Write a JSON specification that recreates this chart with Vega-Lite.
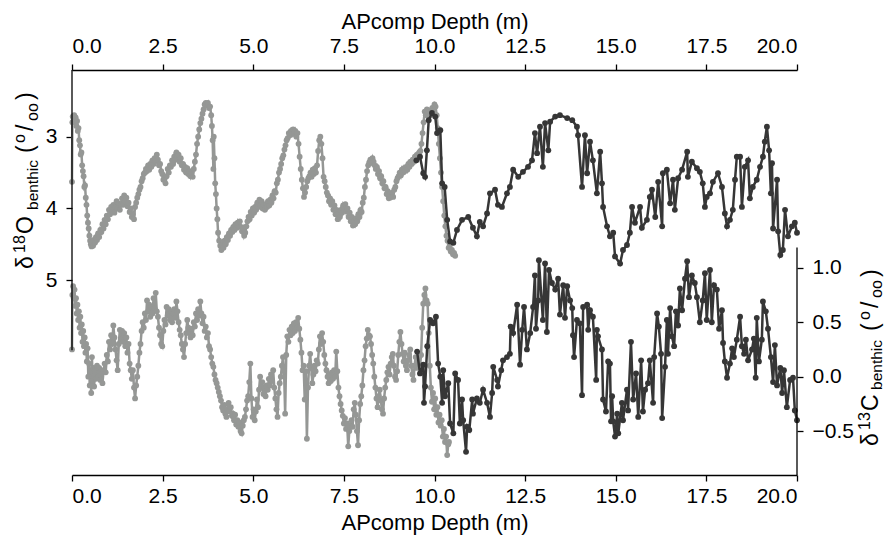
{
  "$schema": "https://vega.github.io/schema/vega-lite/v6.json",
  "width": 725,
  "height": 405,
  "autosize": {"type": "none"},
  "padding": {"left": 72, "top": 70, "right": 90, "bottom": 64},
  "background": "white",
  "config": {
    "view": {"stroke": null},
    "font": "Liberation Sans",
    "axis": {
      "grid": false,
      "domainColor": "#000000",
      "domainWidth": 1.3,
      "tickColor": "#000000",
      "tickWidth": 1.3,
      "tickSize": 6,
      "labelFont": "Liberation Sans",
      "labelFontSize": 21,
      "labelColor": "#000000",
      "titleFont": "Liberation Sans",
      "titleFontSize": 22,
      "titleFontWeight": "normal",
      "titleColor": "#000000"
    }
  },
  "datasets": {
    "o18a": [
      {"depth":0.00,"value":3.63},{"depth":0.01,"value":2.80},{"depth":0.02,"value":2.72},{"depth":0.04,"value":2.78},{"depth":0.06,"value":2.70},{"depth":0.08,"value":2.76},{"depth":0.10,"value":2.73},{"depth":0.12,"value":2.85},{"depth":0.14,"value":2.78},{"depth":0.16,"value":2.92},{"depth":0.18,"value":2.88},{"depth":0.20,"value":3.05},{"depth":0.22,"value":3.12},{"depth":0.24,"value":3.25},{"depth":0.26,"value":3.22},{"depth":0.28,"value":3.40},{"depth":0.30,"value":3.48},{"depth":0.32,"value":3.55},{"depth":0.34,"value":3.70},{"depth":0.36,"value":3.68},{"depth":0.38,"value":3.85},{"depth":0.40,"value":3.95},{"depth":0.42,"value":4.10},{"depth":0.44,"value":4.20},{"depth":0.46,"value":4.28},{"depth":0.48,"value":4.38},{"depth":0.50,"value":4.45},{"depth":0.52,"value":4.50},{"depth":0.54,"value":4.53},{"depth":0.56,"value":4.47},{"depth":0.58,"value":4.52},{"depth":0.60,"value":4.44},{"depth":0.63,"value":4.48},{"depth":0.66,"value":4.40},{"depth":0.69,"value":4.44},{"depth":0.72,"value":4.35},{"depth":0.75,"value":4.40},{"depth":0.78,"value":4.30},{"depth":0.81,"value":4.33},{"depth":0.84,"value":4.22},{"depth":0.87,"value":4.28},{"depth":0.90,"value":4.16},{"depth":0.93,"value":4.22},{"depth":0.96,"value":4.10},{"depth":0.99,"value":4.15},{"depth":1.02,"value":4.02},{"depth":1.05,"value":4.08},{"depth":1.08,"value":3.98},{"depth":1.11,"value":4.05},{"depth":1.14,"value":3.95},{"depth":1.17,"value":4.06},{"depth":1.20,"value":3.98},{"depth":1.23,"value":3.90},{"depth":1.26,"value":4.00},{"depth":1.29,"value":3.93},{"depth":1.32,"value":4.02},{"depth":1.35,"value":3.95},{"depth":1.38,"value":3.86},{"depth":1.41,"value":3.95},{"depth":1.44,"value":3.82},{"depth":1.47,"value":3.90},{"depth":1.50,"value":3.85},{"depth":1.53,"value":3.97},{"depth":1.56,"value":3.92},{"depth":1.59,"value":4.05},{"depth":1.62,"value":4.00},{"depth":1.65,"value":4.12},{"depth":1.68,"value":4.08},{"depth":1.71,"value":4.15},{"depth":1.74,"value":3.98},{"depth":1.77,"value":3.92},{"depth":1.80,"value":3.85},{"depth":1.83,"value":3.80},{"depth":1.86,"value":3.74},{"depth":1.89,"value":3.70},{"depth":1.92,"value":3.62},{"depth":1.95,"value":3.58},{"depth":1.98,"value":3.52},{"depth":2.01,"value":3.50},{"depth":2.04,"value":3.45},{"depth":2.07,"value":3.48},{"depth":2.10,"value":3.40},{"depth":2.13,"value":3.46},{"depth":2.16,"value":3.38},{"depth":2.19,"value":3.42},{"depth":2.22,"value":3.33},{"depth":2.25,"value":3.38},{"depth":2.28,"value":3.30},{"depth":2.31,"value":3.34},{"depth":2.34,"value":3.25},{"depth":2.37,"value":3.32},{"depth":2.40,"value":3.40},{"depth":2.43,"value":3.38},{"depth":2.46,"value":3.48},{"depth":2.49,"value":3.52},{"depth":2.52,"value":3.60},{"depth":2.55,"value":3.58},{"depth":2.58,"value":3.65},{"depth":2.61,"value":3.55},{"depth":2.64,"value":3.45},{"depth":2.67,"value":3.50},{"depth":2.70,"value":3.40},{"depth":2.73,"value":3.42},{"depth":2.76,"value":3.33},{"depth":2.79,"value":3.38},{"depth":2.82,"value":3.28},{"depth":2.85,"value":3.32},{"depth":2.88,"value":3.22},{"depth":2.91,"value":3.27},{"depth":2.94,"value":3.25},{"depth":2.97,"value":3.35},{"depth":3.00,"value":3.30},{"depth":3.03,"value":3.40},{"depth":3.06,"value":3.38},{"depth":3.09,"value":3.46},{"depth":3.12,"value":3.42},{"depth":3.15,"value":3.50},{"depth":3.18,"value":3.44},{"depth":3.21,"value":3.52},{"depth":3.24,"value":3.48},{"depth":3.27,"value":3.55},{"depth":3.30,"value":3.50},{"depth":3.33,"value":3.56},{"depth":3.36,"value":3.45},{"depth":3.39,"value":3.35},{"depth":3.42,"value":3.25},{"depth":3.45,"value":3.10},{"depth":3.48,"value":3.00},{"depth":3.51,"value":2.90},{"depth":3.54,"value":2.81},{"depth":3.57,"value":2.75},{"depth":3.60,"value":2.68},{"depth":3.63,"value":2.62},{"depth":3.66,"value":2.55},{"depth":3.69,"value":2.53},{"depth":3.72,"value":2.56},{"depth":3.75,"value":2.53},{"depth":3.78,"value":2.60},{"depth":3.81,"value":2.58},{"depth":3.84,"value":2.70},{"depth":3.86,"value":2.85},{"depth":3.88,"value":3.05},{"depth":3.90,"value":3.45},{"depth":3.91,"value":3.00},{"depth":3.93,"value":3.30},{"depth":3.95,"value":3.65},{"depth":3.97,"value":3.80},{"depth":3.99,"value":4.00},{"depth":4.01,"value":4.15},{"depth":4.03,"value":4.34},{"depth":4.06,"value":4.45},{"depth":4.09,"value":4.52},{"depth":4.12,"value":4.58},{"depth":4.15,"value":4.50},{"depth":4.18,"value":4.55},{"depth":4.21,"value":4.45},{"depth":4.24,"value":4.50},{"depth":4.27,"value":4.40},{"depth":4.30,"value":4.44},{"depth":4.33,"value":4.35},{"depth":4.36,"value":4.38},{"depth":4.39,"value":4.30},{"depth":4.42,"value":4.33},{"depth":4.45,"value":4.26},{"depth":4.48,"value":4.30},{"depth":4.51,"value":4.22},{"depth":4.54,"value":4.27},{"depth":4.57,"value":4.20},{"depth":4.60,"value":4.25},{"depth":4.63,"value":4.18},{"depth":4.66,"value":4.26},{"depth":4.69,"value":4.32},{"depth":4.72,"value":4.28},{"depth":4.75,"value":4.38},{"depth":4.78,"value":4.34},{"depth":4.81,"value":4.25},{"depth":4.84,"value":4.18},{"depth":4.87,"value":4.12},{"depth":4.90,"value":4.15},{"depth":4.93,"value":4.05},{"depth":4.96,"value":4.10},{"depth":4.99,"value":4.00},{"depth":5.02,"value":4.06},{"depth":5.05,"value":3.98},{"depth":5.08,"value":4.02},{"depth":5.11,"value":3.92},{"depth":5.14,"value":3.98},{"depth":5.17,"value":3.88},{"depth":5.20,"value":3.95},{"depth":5.23,"value":3.90},{"depth":5.26,"value":4.00},{"depth":5.29,"value":3.95},{"depth":5.32,"value":4.02},{"depth":5.35,"value":3.94},{"depth":5.38,"value":3.98},{"depth":5.41,"value":3.90},{"depth":5.44,"value":3.96},{"depth":5.47,"value":3.88},{"depth":5.50,"value":3.92},{"depth":5.53,"value":3.82},{"depth":5.56,"value":3.86},{"depth":5.59,"value":3.76},{"depth":5.62,"value":3.78},{"depth":5.65,"value":3.65},{"depth":5.68,"value":3.60},{"depth":5.71,"value":3.50},{"depth":5.74,"value":3.45},{"depth":5.77,"value":3.38},{"depth":5.80,"value":3.30},{"depth":5.83,"value":3.26},{"depth":5.86,"value":3.18},{"depth":5.89,"value":3.12},{"depth":5.92,"value":3.05},{"depth":5.95,"value":3.02},{"depth":5.98,"value":2.95},{"depth":6.01,"value":2.98},{"depth":6.04,"value":2.92},{"depth":6.07,"value":2.96},{"depth":6.10,"value":2.90},{"depth":6.13,"value":2.96},{"depth":6.16,"value":2.92},{"depth":6.19,"value":3.00},{"depth":6.22,"value":2.95},{"depth":6.25,"value":3.10},{"depth":6.28,"value":3.28},{"depth":6.31,"value":3.45},{"depth":6.34,"value":3.60},{"depth":6.37,"value":3.72},{"depth":6.40,"value":3.84},{"depth":6.43,"value":3.78},{"depth":6.46,"value":3.70},{"depth":6.49,"value":3.62},{"depth":6.52,"value":3.58},{"depth":6.55,"value":3.55},{"depth":6.58,"value":3.50},{"depth":6.61,"value":3.56},{"depth":6.64,"value":3.46},{"depth":6.67,"value":3.52},{"depth":6.70,"value":3.44},{"depth":6.73,"value":3.50},{"depth":6.76,"value":3.40},{"depth":6.79,"value":3.20},{"depth":6.82,"value":3.05},{"depth":6.85,"value":3.00},{"depth":6.88,"value":3.10},{"depth":6.91,"value":3.30},{"depth":6.94,"value":3.56},{"depth":6.97,"value":3.62},{"depth":7.00,"value":3.70},{"depth":7.03,"value":3.78},{"depth":7.06,"value":3.82},{"depth":7.09,"value":3.90},{"depth":7.12,"value":3.86},{"depth":7.15,"value":3.95},{"depth":7.18,"value":3.90},{"depth":7.21,"value":4.02},{"depth":7.24,"value":3.96},{"depth":7.27,"value":4.08},{"depth":7.30,"value":4.02},{"depth":7.33,"value":4.15},{"depth":7.36,"value":4.08},{"depth":7.39,"value":4.12},{"depth":7.42,"value":4.02},{"depth":7.45,"value":4.06},{"depth":7.48,"value":3.96},{"depth":7.51,"value":4.00},{"depth":7.54,"value":3.94},{"depth":7.57,"value":4.04},{"depth":7.60,"value":4.00},{"depth":7.63,"value":4.12},{"depth":7.66,"value":4.06},{"depth":7.69,"value":4.18},{"depth":7.72,"value":4.12},{"depth":7.75,"value":4.24},{"depth":7.78,"value":4.18},{"depth":7.81,"value":4.22},{"depth":7.84,"value":4.14},{"depth":7.87,"value":4.18},{"depth":7.90,"value":4.08},{"depth":7.93,"value":4.12},{"depth":7.96,"value":4.02},{"depth":7.99,"value":4.05},{"depth":8.02,"value":3.92},{"depth":8.05,"value":3.85},{"depth":8.08,"value":3.70},{"depth":8.11,"value":3.60},{"depth":8.14,"value":3.48},{"depth":8.17,"value":3.40},{"depth":8.20,"value":3.36},{"depth":8.23,"value":3.32},{"depth":8.26,"value":3.36},{"depth":8.29,"value":3.30},{"depth":8.32,"value":3.35},{"depth":8.35,"value":3.40},{"depth":8.38,"value":3.45},{"depth":8.41,"value":3.42},{"depth":8.44,"value":3.52},{"depth":8.47,"value":3.48},{"depth":8.50,"value":3.58},{"depth":8.53,"value":3.55},{"depth":8.56,"value":3.65},{"depth":8.59,"value":3.62},{"depth":8.62,"value":3.72},{"depth":8.65,"value":3.70},{"depth":8.68,"value":3.80},{"depth":8.71,"value":3.76},{"depth":8.74,"value":3.86},{"depth":8.77,"value":3.80},{"depth":8.80,"value":3.84},{"depth":8.83,"value":3.78},{"depth":8.86,"value":3.84},{"depth":8.89,"value":3.74},{"depth":8.92,"value":3.70},{"depth":8.95,"value":3.62},{"depth":8.98,"value":3.58},{"depth":9.01,"value":3.55},{"depth":9.04,"value":3.50},{"depth":9.07,"value":3.54},{"depth":9.10,"value":3.46},{"depth":9.13,"value":3.50},{"depth":9.16,"value":3.44},{"depth":9.19,"value":3.48},{"depth":9.22,"value":3.42},{"depth":9.25,"value":3.46},{"depth":9.28,"value":3.38},{"depth":9.31,"value":3.42},{"depth":9.34,"value":3.35},{"depth":9.37,"value":3.38},{"depth":9.40,"value":3.32},{"depth":9.43,"value":3.35},{"depth":9.46,"value":3.28},{"depth":9.49,"value":3.32},{"depth":9.52,"value":3.25},{"depth":9.55,"value":3.28},{"depth":9.58,"value":3.22},{"depth":9.61,"value":3.20},{"depth":9.64,"value":3.10},{"depth":9.67,"value":2.95},{"depth":9.70,"value":2.80},{"depth":9.73,"value":2.65},{"depth":9.76,"value":2.70},{"depth":9.79,"value":2.62},{"depth":9.82,"value":2.68},{"depth":9.85,"value":2.64},{"depth":9.88,"value":2.70},{"depth":9.91,"value":2.66},{"depth":9.94,"value":2.60},{"depth":9.97,"value":2.62},{"depth":10.00,"value":2.55},{"depth":10.03,"value":2.58},{"depth":10.06,"value":2.70},{"depth":10.09,"value":2.88},{"depth":10.12,"value":3.10},{"depth":10.15,"value":3.30},{"depth":10.18,"value":3.50},{"depth":10.21,"value":3.70},{"depth":10.24,"value":3.90},{"depth":10.27,"value":4.10},{"depth":10.30,"value":4.25},{"depth":10.33,"value":4.38},{"depth":10.36,"value":4.45},{"depth":10.39,"value":4.55},{"depth":10.42,"value":4.52},{"depth":10.45,"value":4.60},{"depth":10.48,"value":4.58},{"depth":10.51,"value":4.64},{"depth":10.54,"value":4.62},{"depth":10.57,"value":4.66}
    ],
    "o18b": [
      {"depth":9.50,"value":3.33},{"depth":9.60,"value":3.28},{"depth":9.69,"value":3.51},{"depth":9.74,"value":3.56},{"depth":9.79,"value":3.19},{"depth":9.84,"value":2.77},{"depth":9.93,"value":2.67},{"depth":10.02,"value":2.72},{"depth":10.07,"value":2.95},{"depth":10.16,"value":2.91},{"depth":10.21,"value":3.65},{"depth":10.28,"value":3.70},{"depth":10.35,"value":4.16},{"depth":10.43,"value":4.46},{"depth":10.52,"value":4.48},{"depth":10.62,"value":4.30},{"depth":10.76,"value":4.16},{"depth":10.93,"value":4.12},{"depth":11.06,"value":4.27},{"depth":11.17,"value":4.39},{"depth":11.25,"value":4.19},{"depth":11.34,"value":4.25},{"depth":11.45,"value":4.07},{"depth":11.53,"value":3.79},{"depth":11.67,"value":3.74},{"depth":11.75,"value":3.95},{"depth":11.86,"value":3.98},{"depth":12.00,"value":3.79},{"depth":12.08,"value":3.70},{"depth":12.17,"value":3.46},{"depth":12.31,"value":3.56},{"depth":12.44,"value":3.49},{"depth":12.58,"value":3.42},{"depth":12.69,"value":3.33},{"depth":12.77,"value":2.95},{"depth":12.83,"value":3.23},{"depth":12.91,"value":2.86},{"depth":12.99,"value":3.42},{"depth":13.05,"value":2.81},{"depth":13.14,"value":3.19},{"depth":13.19,"value":2.79},{"depth":13.33,"value":2.72},{"depth":13.46,"value":2.70},{"depth":13.66,"value":2.74},{"depth":13.80,"value":2.77},{"depth":13.93,"value":2.86},{"depth":13.96,"value":2.98},{"depth":14.07,"value":3.70},{"depth":14.15,"value":2.98},{"depth":14.21,"value":3.51},{"depth":14.29,"value":3.07},{"depth":14.37,"value":3.33},{"depth":14.48,"value":3.79},{"depth":14.57,"value":3.21},{"depth":14.62,"value":3.65},{"depth":14.65,"value":3.98},{"depth":14.76,"value":4.25},{"depth":14.84,"value":4.39},{"depth":14.93,"value":4.34},{"depth":14.98,"value":4.67},{"depth":15.12,"value":4.77},{"depth":15.20,"value":4.58},{"depth":15.31,"value":4.51},{"depth":15.39,"value":4.34},{"depth":15.45,"value":3.98},{"depth":15.53,"value":4.20},{"depth":15.67,"value":3.98},{"depth":15.72,"value":4.27},{"depth":15.86,"value":4.16},{"depth":15.94,"value":3.84},{"depth":16.00,"value":3.74},{"depth":16.09,"value":4.12},{"depth":16.17,"value":3.63},{"depth":16.28,"value":4.25},{"depth":16.30,"value":3.51},{"depth":16.41,"value":3.46},{"depth":16.50,"value":3.93},{"depth":16.58,"value":3.60},{"depth":16.63,"value":4.02},{"depth":16.72,"value":3.58},{"depth":16.83,"value":3.46},{"depth":16.97,"value":3.21},{"depth":16.99,"value":3.56},{"depth":17.10,"value":3.35},{"depth":17.24,"value":3.44},{"depth":17.32,"value":3.49},{"depth":17.40,"value":3.65},{"depth":17.46,"value":3.98},{"depth":17.51,"value":3.84},{"depth":17.60,"value":3.79},{"depth":17.68,"value":3.63},{"depth":17.82,"value":3.51},{"depth":17.93,"value":3.70},{"depth":18.01,"value":4.07},{"depth":18.07,"value":4.25},{"depth":18.15,"value":4.16},{"depth":18.23,"value":4.02},{"depth":18.29,"value":3.60},{"depth":18.34,"value":3.28},{"depth":18.43,"value":3.28},{"depth":18.48,"value":3.98},{"depth":18.56,"value":3.42},{"depth":18.65,"value":3.33},{"depth":18.70,"value":3.86},{"depth":18.78,"value":3.70},{"depth":18.89,"value":3.60},{"depth":18.98,"value":3.42},{"depth":19.06,"value":3.28},{"depth":19.11,"value":3.07},{"depth":19.17,"value":2.86},{"depth":19.23,"value":3.19},{"depth":19.28,"value":3.79},{"depth":19.31,"value":3.37},{"depth":19.34,"value":4.28},{"depth":19.45,"value":3.60},{"depth":19.48,"value":4.32},{"depth":19.54,"value":4.65},{"depth":19.61,"value":4.58},{"depth":19.67,"value":4.02},{"depth":19.75,"value":4.39},{"depth":19.86,"value":4.25},{"depth":19.94,"value":4.20},{"depth":20.00,"value":4.34}
    ],
    "c13a": [
      {"depth":0.00,"value":0.25},{"depth":0.01,"value":0.75},{"depth":0.03,"value":0.83},{"depth":0.05,"value":0.72},{"depth":0.07,"value":0.80},{"depth":0.09,"value":0.65},{"depth":0.11,"value":0.72},{"depth":0.13,"value":0.58},{"depth":0.15,"value":0.66},{"depth":0.17,"value":0.52},{"depth":0.19,"value":0.60},{"depth":0.21,"value":0.45},{"depth":0.23,"value":0.55},{"depth":0.25,"value":0.40},{"depth":0.27,"value":0.48},{"depth":0.29,"value":0.32},{"depth":0.31,"value":0.42},{"depth":0.33,"value":0.28},{"depth":0.35,"value":0.36},{"depth":0.37,"value":0.22},{"depth":0.39,"value":0.30},{"depth":0.41,"value":0.14},{"depth":0.43,"value":0.26},{"depth":0.45,"value":0.00},{"depth":0.47,"value":0.12},{"depth":0.49,"value":-0.08},{"depth":0.51,"value":0.05},{"depth":0.53,"value":-0.15},{"depth":0.55,"value":0.18},{"depth":0.57,"value":-0.04},{"depth":0.59,"value":0.08},{"depth":0.61,"value":-0.09},{"depth":0.63,"value":0.06},{"depth":0.66,"value":-0.02},{"depth":0.69,"value":0.10},{"depth":0.72,"value":0.00},{"depth":0.75,"value":0.08},{"depth":0.78,"value":-0.03},{"depth":0.81,"value":0.06},{"depth":0.84,"value":-0.06},{"depth":0.87,"value":0.05},{"depth":0.90,"value":0.12},{"depth":0.93,"value":0.04},{"depth":0.96,"value":0.20},{"depth":0.99,"value":0.14},{"depth":1.02,"value":0.32},{"depth":1.05,"value":0.25},{"depth":1.08,"value":0.38},{"depth":1.11,"value":0.30},{"depth":1.14,"value":0.47},{"depth":1.17,"value":0.36},{"depth":1.20,"value":0.25},{"depth":1.23,"value":0.15},{"depth":1.26,"value":0.06},{"depth":1.29,"value":0.30},{"depth":1.32,"value":0.43},{"depth":1.35,"value":0.34},{"depth":1.38,"value":0.42},{"depth":1.41,"value":0.32},{"depth":1.44,"value":0.40},{"depth":1.47,"value":0.28},{"depth":1.50,"value":0.36},{"depth":1.53,"value":0.22},{"depth":1.56,"value":0.30},{"depth":1.59,"value":0.12},{"depth":1.62,"value":0.06},{"depth":1.65,"value":-0.02},{"depth":1.68,"value":0.06},{"depth":1.71,"value":-0.10},{"depth":1.74,"value":-0.20},{"depth":1.77,"value":-0.08},{"depth":1.80,"value":0.00},{"depth":1.83,"value":0.10},{"depth":1.86,"value":0.22},{"depth":1.89,"value":0.30},{"depth":1.92,"value":0.42},{"depth":1.95,"value":0.50},{"depth":1.98,"value":0.45},{"depth":2.01,"value":0.58},{"depth":2.04,"value":0.52},{"depth":2.07,"value":0.70},{"depth":2.10,"value":0.60},{"depth":2.13,"value":0.66},{"depth":2.16,"value":0.55},{"depth":2.19,"value":0.64},{"depth":2.22,"value":0.58},{"depth":2.25,"value":0.72},{"depth":2.28,"value":0.62},{"depth":2.31,"value":0.77},{"depth":2.34,"value":0.60},{"depth":2.37,"value":0.55},{"depth":2.40,"value":0.45},{"depth":2.43,"value":0.38},{"depth":2.46,"value":0.30},{"depth":2.49,"value":0.28},{"depth":2.52,"value":0.42},{"depth":2.55,"value":0.52},{"depth":2.58,"value":0.48},{"depth":2.61,"value":0.64},{"depth":2.64,"value":0.56},{"depth":2.67,"value":0.62},{"depth":2.70,"value":0.52},{"depth":2.73,"value":0.60},{"depth":2.76,"value":0.50},{"depth":2.79,"value":0.58},{"depth":2.82,"value":0.62},{"depth":2.85,"value":0.54},{"depth":2.88,"value":0.69},{"depth":2.91,"value":0.60},{"depth":2.94,"value":0.50},{"depth":2.97,"value":0.43},{"depth":3.00,"value":0.38},{"depth":3.03,"value":0.30},{"depth":3.06,"value":0.25},{"depth":3.09,"value":0.18},{"depth":3.12,"value":0.30},{"depth":3.15,"value":0.40},{"depth":3.18,"value":0.52},{"depth":3.21,"value":0.45},{"depth":3.24,"value":0.40},{"depth":3.27,"value":0.36},{"depth":3.30,"value":0.44},{"depth":3.33,"value":0.38},{"depth":3.36,"value":0.50},{"depth":3.39,"value":0.46},{"depth":3.42,"value":0.58},{"depth":3.45,"value":0.52},{"depth":3.48,"value":0.62},{"depth":3.51,"value":0.56},{"depth":3.54,"value":0.69},{"depth":3.57,"value":0.58},{"depth":3.60,"value":0.49},{"depth":3.63,"value":0.55},{"depth":3.66,"value":0.42},{"depth":3.69,"value":0.46},{"depth":3.72,"value":0.36},{"depth":3.75,"value":0.40},{"depth":3.78,"value":0.28},{"depth":3.81,"value":0.25},{"depth":3.84,"value":0.18},{"depth":3.87,"value":0.12},{"depth":3.90,"value":0.09},{"depth":3.93,"value":0.02},{"depth":3.96,"value":-0.03},{"depth":3.99,"value":-0.06},{"depth":4.02,"value":-0.10},{"depth":4.05,"value":-0.14},{"depth":4.08,"value":-0.18},{"depth":4.11,"value":-0.22},{"depth":4.14,"value":-0.28},{"depth":4.17,"value":-0.31},{"depth":4.20,"value":-0.26},{"depth":4.23,"value":-0.34},{"depth":4.26,"value":-0.37},{"depth":4.29,"value":-0.30},{"depth":4.32,"value":-0.24},{"depth":4.35,"value":-0.32},{"depth":4.38,"value":-0.28},{"depth":4.41,"value":-0.36},{"depth":4.44,"value":-0.34},{"depth":4.47,"value":-0.40},{"depth":4.50,"value":-0.35},{"depth":4.53,"value":-0.44},{"depth":4.56,"value":-0.40},{"depth":4.59,"value":-0.46},{"depth":4.62,"value":-0.42},{"depth":4.65,"value":-0.50},{"depth":4.68,"value":-0.52},{"depth":4.71,"value":-0.45},{"depth":4.74,"value":-0.40},{"depth":4.77,"value":-0.37},{"depth":4.80,"value":-0.30},{"depth":4.83,"value":-0.22},{"depth":4.86,"value":-0.18},{"depth":4.89,"value":-0.05},{"depth":4.92,"value":0.12},{"depth":4.95,"value":-0.20},{"depth":4.98,"value":-0.37},{"depth":5.01,"value":-0.30},{"depth":5.04,"value":-0.40},{"depth":5.07,"value":-0.32},{"depth":5.10,"value":-0.21},{"depth":5.13,"value":-0.28},{"depth":5.16,"value":-0.12},{"depth":5.19,"value":0.00},{"depth":5.22,"value":-0.10},{"depth":5.25,"value":-0.05},{"depth":5.28,"value":-0.16},{"depth":5.31,"value":-0.10},{"depth":5.34,"value":-0.18},{"depth":5.37,"value":-0.08},{"depth":5.40,"value":-0.12},{"depth":5.43,"value":-0.02},{"depth":5.46,"value":-0.08},{"depth":5.49,"value":0.02},{"depth":5.52,"value":-0.04},{"depth":5.55,"value":0.06},{"depth":5.58,"value":-0.10},{"depth":5.61,"value":-0.20},{"depth":5.64,"value":-0.30},{"depth":5.67,"value":-0.37},{"depth":5.70,"value":-0.15},{"depth":5.73,"value":-0.06},{"depth":5.76,"value":0.00},{"depth":5.79,"value":0.10},{"depth":5.82,"value":0.18},{"depth":5.85,"value":0.05},{"depth":5.88,"value":-0.34},{"depth":5.91,"value":0.20},{"depth":5.94,"value":0.37},{"depth":5.97,"value":0.32},{"depth":6.00,"value":0.43},{"depth":6.03,"value":0.38},{"depth":6.06,"value":0.46},{"depth":6.09,"value":0.40},{"depth":6.12,"value":0.49},{"depth":6.15,"value":0.42},{"depth":6.18,"value":0.50},{"depth":6.21,"value":0.45},{"depth":6.24,"value":0.54},{"depth":6.27,"value":0.44},{"depth":6.30,"value":0.34},{"depth":6.33,"value":0.22},{"depth":6.36,"value":0.06},{"depth":6.39,"value":0.10},{"depth":6.42,"value":-0.21},{"depth":6.45,"value":0.05},{"depth":6.48,"value":-0.57},{"depth":6.51,"value":-0.10},{"depth":6.54,"value":0.10},{"depth":6.57,"value":0.21},{"depth":6.60,"value":0.08},{"depth":6.63,"value":-0.06},{"depth":6.66,"value":0.02},{"depth":6.69,"value":0.10},{"depth":6.72,"value":0.05},{"depth":6.75,"value":0.15},{"depth":6.78,"value":0.12},{"depth":6.81,"value":0.25},{"depth":6.84,"value":0.37},{"depth":6.87,"value":0.30},{"depth":6.90,"value":0.40},{"depth":6.93,"value":0.32},{"depth":6.96,"value":0.20},{"depth":6.99,"value":0.12},{"depth":7.02,"value":0.06},{"depth":7.05,"value":0.00},{"depth":7.08,"value":-0.06},{"depth":7.11,"value":0.02},{"depth":7.14,"value":-0.04},{"depth":7.17,"value":0.04},{"depth":7.20,"value":-0.02},{"depth":7.23,"value":0.06},{"depth":7.26,"value":0.00},{"depth":7.29,"value":0.23},{"depth":7.32,"value":0.05},{"depth":7.35,"value":-0.10},{"depth":7.38,"value":-0.18},{"depth":7.41,"value":-0.25},{"depth":7.44,"value":-0.31},{"depth":7.47,"value":-0.36},{"depth":7.50,"value":-0.43},{"depth":7.53,"value":-0.38},{"depth":7.56,"value":-0.48},{"depth":7.59,"value":-0.43},{"depth":7.62,"value":-0.64},{"depth":7.65,"value":-0.50},{"depth":7.68,"value":-0.46},{"depth":7.71,"value":-0.40},{"depth":7.74,"value":-0.46},{"depth":7.77,"value":-0.30},{"depth":7.80,"value":-0.24},{"depth":7.83,"value":-0.35},{"depth":7.86,"value":-0.50},{"depth":7.89,"value":-0.63},{"depth":7.92,"value":-0.40},{"depth":7.95,"value":-0.25},{"depth":7.98,"value":-0.18},{"depth":8.01,"value":-0.08},{"depth":8.04,"value":0.06},{"depth":8.07,"value":0.15},{"depth":8.10,"value":0.28},{"depth":8.13,"value":0.35},{"depth":8.16,"value":0.43},{"depth":8.19,"value":0.38},{"depth":8.22,"value":0.37},{"depth":8.25,"value":0.30},{"depth":8.28,"value":0.20},{"depth":8.31,"value":0.12},{"depth":8.34,"value":0.00},{"depth":8.37,"value":-0.10},{"depth":8.40,"value":-0.20},{"depth":8.43,"value":-0.28},{"depth":8.46,"value":-0.18},{"depth":8.49,"value":-0.12},{"depth":8.52,"value":-0.22},{"depth":8.55,"value":-0.30},{"depth":8.58,"value":-0.34},{"depth":8.61,"value":-0.20},{"depth":8.64,"value":-0.10},{"depth":8.67,"value":-0.03},{"depth":8.70,"value":0.04},{"depth":8.73,"value":0.09},{"depth":8.76,"value":0.02},{"depth":8.79,"value":0.12},{"depth":8.82,"value":0.18},{"depth":8.85,"value":0.21},{"depth":8.88,"value":0.10},{"depth":8.91,"value":0.00},{"depth":8.94,"value":-0.03},{"depth":8.97,"value":0.05},{"depth":9.00,"value":0.20},{"depth":9.03,"value":0.32},{"depth":9.06,"value":0.41},{"depth":9.09,"value":0.30},{"depth":9.12,"value":0.21},{"depth":9.15,"value":0.14},{"depth":9.18,"value":0.22},{"depth":9.21,"value":0.10},{"depth":9.24,"value":0.06},{"depth":9.27,"value":0.15},{"depth":9.30,"value":0.20},{"depth":9.33,"value":0.25},{"depth":9.36,"value":0.10},{"depth":9.39,"value":0.02},{"depth":9.42,"value":-0.03},{"depth":9.45,"value":0.10},{"depth":9.48,"value":0.18},{"depth":9.51,"value":0.08},{"depth":9.54,"value":0.12},{"depth":9.57,"value":0.18},{"depth":9.60,"value":0.10},{"depth":9.63,"value":0.20},{"depth":9.66,"value":0.45},{"depth":9.69,"value":0.67},{"depth":9.72,"value":0.75},{"depth":9.75,"value":0.81},{"depth":9.78,"value":0.70},{"depth":9.81,"value":0.67},{"depth":9.84,"value":0.40},{"depth":9.87,"value":0.10},{"depth":9.90,"value":-0.10},{"depth":9.93,"value":-0.23},{"depth":9.96,"value":-0.15},{"depth":9.99,"value":-0.30},{"depth":10.02,"value":-0.20},{"depth":10.05,"value":-0.35},{"depth":10.08,"value":-0.28},{"depth":10.11,"value":-0.42},{"depth":10.14,"value":-0.35},{"depth":10.17,"value":-0.45},{"depth":10.20,"value":-0.40},{"depth":10.23,"value":-0.55},{"depth":10.26,"value":-0.48},{"depth":10.29,"value":-0.60},{"depth":10.32,"value":-0.55},{"depth":10.35,"value":-0.72},{"depth":10.38,"value":-0.62},{"depth":10.40,"value":-0.60}
    ],
    "c13b": [
      {"depth":9.52,"value":0.23},{"depth":9.60,"value":0.03},{"depth":9.69,"value":0.11},{"depth":9.71,"value":-0.24},{"depth":9.74,"value":-0.09},{"depth":9.80,"value":0.28},{"depth":9.88,"value":0.52},{"depth":9.96,"value":0.49},{"depth":10.04,"value":0.55},{"depth":10.10,"value":0.12},{"depth":10.16,"value":0.00},{"depth":10.21,"value":-0.24},{"depth":10.24,"value":0.06},{"depth":10.29,"value":-0.18},{"depth":10.38,"value":-0.06},{"depth":10.43,"value":-0.43},{"depth":10.52,"value":-0.52},{"depth":10.57,"value":0.03},{"depth":10.65,"value":-0.03},{"depth":10.70,"value":-0.43},{"depth":10.76,"value":-0.21},{"depth":10.79,"value":-0.40},{"depth":10.87,"value":-0.69},{"depth":10.90,"value":-0.46},{"depth":10.96,"value":-0.49},{"depth":11.04,"value":-0.21},{"depth":11.06,"value":-0.34},{"depth":11.17,"value":-0.20},{"depth":11.25,"value":-0.24},{"depth":11.34,"value":-0.12},{"depth":11.45,"value":-0.24},{"depth":11.53,"value":-0.37},{"depth":11.59,"value":-0.15},{"depth":11.62,"value":0.09},{"depth":11.73,"value":-0.03},{"depth":11.75,"value":-0.09},{"depth":11.84,"value":0.06},{"depth":11.89,"value":0.15},{"depth":12.00,"value":0.18},{"depth":12.08,"value":0.21},{"depth":12.10,"value":0.46},{"depth":12.17,"value":0.40},{"depth":12.28,"value":0.66},{"depth":12.36,"value":0.11},{"depth":12.42,"value":0.43},{"depth":12.47,"value":0.64},{"depth":12.55,"value":0.25},{"depth":12.64,"value":0.40},{"depth":12.72,"value":0.64},{"depth":12.77,"value":0.93},{"depth":12.80,"value":0.44},{"depth":12.86,"value":0.70},{"depth":12.88,"value":1.07},{"depth":12.99,"value":0.52},{"depth":13.05,"value":1.04},{"depth":13.10,"value":0.41},{"depth":13.16,"value":0.98},{"depth":13.24,"value":0.86},{"depth":13.33,"value":0.80},{"depth":13.41,"value":0.90},{"depth":13.46,"value":0.57},{"depth":13.55,"value":0.84},{"depth":13.60,"value":0.54},{"depth":13.66,"value":0.83},{"depth":13.74,"value":0.70},{"depth":13.80,"value":0.63},{"depth":13.82,"value":0.38},{"depth":13.85,"value":0.18},{"depth":13.93,"value":0.52},{"depth":14.01,"value":0.49},{"depth":14.07,"value":-0.17},{"depth":14.10,"value":0.64},{"depth":14.21,"value":0.66},{"depth":14.24,"value":0.43},{"depth":14.29,"value":0.61},{"depth":14.37,"value":0.55},{"depth":14.46,"value":-0.03},{"depth":14.48,"value":0.43},{"depth":14.51,"value":0.37},{"depth":14.62,"value":0.25},{"depth":14.65,"value":-0.21},{"depth":14.73,"value":-0.32},{"depth":14.79,"value":0.14},{"depth":14.84,"value":0.12},{"depth":14.87,"value":-0.41},{"depth":14.90,"value":-0.18},{"depth":14.93,"value":-0.41},{"depth":14.98,"value":-0.55},{"depth":15.04,"value":-0.34},{"depth":15.07,"value":-0.52},{"depth":15.17,"value":-0.24},{"depth":15.20,"value":-0.40},{"depth":15.31,"value":-0.12},{"depth":15.34,"value":-0.31},{"depth":15.42,"value":0.32},{"depth":15.48,"value":-0.21},{"depth":15.56,"value":0.03},{"depth":15.62,"value":-0.37},{"depth":15.70,"value":0.15},{"depth":15.75,"value":-0.32},{"depth":15.81,"value":-0.12},{"depth":15.89,"value":-0.06},{"depth":15.94,"value":0.15},{"depth":16.03,"value":-0.24},{"depth":16.06,"value":0.18},{"depth":16.14,"value":0.58},{"depth":16.19,"value":0.46},{"depth":16.25,"value":0.21},{"depth":16.28,"value":-0.38},{"depth":16.36,"value":0.09},{"depth":16.41,"value":0.52},{"depth":16.44,"value":0.21},{"depth":16.50,"value":0.63},{"depth":16.55,"value":0.37},{"depth":16.61,"value":0.28},{"depth":16.66,"value":0.60},{"depth":16.72,"value":0.47},{"depth":16.77,"value":0.81},{"depth":16.83,"value":0.61},{"depth":16.91,"value":0.90},{"depth":16.97,"value":1.06},{"depth":17.02,"value":0.73},{"depth":17.10,"value":0.93},{"depth":17.18,"value":0.86},{"depth":17.24,"value":0.73},{"depth":17.32,"value":0.50},{"depth":17.40,"value":0.70},{"depth":17.46,"value":0.95},{"depth":17.51,"value":0.52},{"depth":17.60,"value":0.98},{"depth":17.65,"value":0.50},{"depth":17.71,"value":0.84},{"depth":17.79,"value":0.80},{"depth":17.85,"value":0.44},{"depth":17.93,"value":0.61},{"depth":17.96,"value":0.31},{"depth":18.01,"value":0.14},{"depth":18.07,"value":-0.01},{"depth":18.15,"value":0.12},{"depth":18.21,"value":0.26},{"depth":18.26,"value":0.18},{"depth":18.34,"value":0.34},{"depth":18.43,"value":0.55},{"depth":18.48,"value":0.28},{"depth":18.54,"value":0.21},{"depth":18.59,"value":0.34},{"depth":18.65,"value":0.15},{"depth":18.76,"value":0.25},{"depth":18.81,"value":0.35},{"depth":18.86,"value":-0.01},{"depth":18.89,"value":0.54},{"depth":18.95,"value":0.14},{"depth":19.03,"value":0.34},{"depth":19.06,"value":0.69},{"depth":19.14,"value":0.60},{"depth":19.20,"value":0.44},{"depth":19.28,"value":0.18},{"depth":19.34,"value":-0.05},{"depth":19.39,"value":0.29},{"depth":19.45,"value":-0.08},{"depth":19.54,"value":0.08},{"depth":19.59,"value":-0.15},{"depth":19.64,"value":0.06},{"depth":19.72,"value":-0.28},{"depth":19.81,"value":-0.03},{"depth":19.89,"value":-0.01},{"depth":19.94,"value":-0.31},{"depth":20.00,"value":-0.40}
    ]
  },
  "layer": [
    {
      "data": {"name": "o18a"},
      "mark": {"type": "line", "color": "#959795", "strokeWidth": 2.5, "point": {"filled": true, "size": 34, "color": "#959795", "opacity": 1}},
      "encoding": {
        "x": {"field": "depth", "type": "quantitative", "scale": {"domain": [0, 20], "nice": false, "zero": false},
              "axis": {"orient": "bottom", "values": [0, 2.5, 5, 7.5, 10, 12.5, 15, 17.5, 20], "format": ".1f", "title": "APcomp Depth (m)", "labelPadding": 4, "titlePadding": 6}},
        "y": {"field": "value", "type": "quantitative", "scale": {"domain": [2.07, 7.718], "reverse": true, "nice": false, "zero": false},
              "axis": {"orient": "left", "values": [3, 4, 5], "format": "d", "domain": false, "title": null, "labelPadding": 9}}
      }
    },
    {
      "data": {"name": "o18b"},
      "mark": {"type": "line", "color": "#363636", "strokeWidth": 2.5, "point": {"filled": true, "size": 34, "color": "#363636", "opacity": 1}},
      "encoding": {
        "x": {"field": "depth", "type": "quantitative", "scale": {"domain": [0, 20], "nice": false, "zero": false},
              "axis": {"orient": "top", "values": [0, 2.5, 5, 7.5, 10, 12.5, 15, 17.5, 20], "format": ".1f", "title": "APcomp Depth (m)", "labelPadding": 8, "titlePadding": 2}},
        "y": {"field": "value", "type": "quantitative", "scale": {"domain": [2.07, 7.718], "reverse": true, "nice": false, "zero": false}, "axis": null}
      }
    },
    {
      "data": {"name": "c13a"},
      "mark": {"type": "line", "color": "#959795", "strokeWidth": 2.5, "point": {"filled": true, "size": 34, "color": "#959795", "opacity": 1}},
      "encoding": {
        "x": {"field": "depth", "type": "quantitative", "scale": {"domain": [0, 20], "nice": false, "zero": false}, "axis": null},
        "y": {"field": "value", "type": "quantitative", "scale": {"domain": [-0.903, 2.816], "nice": false, "zero": false},
              "axis": {"orient": "right", "values": [-0.5, 0, 0.5, 1], "format": ".1f", "domain": false, "title": null, "labelPadding": 9}}
      }
    },
    {
      "data": {"name": "c13b"},
      "mark": {"type": "line", "color": "#363636", "strokeWidth": 2.5, "point": {"filled": true, "size": 34, "color": "#363636", "opacity": 1}},
      "encoding": {
        "x": {"field": "depth", "type": "quantitative", "scale": {"domain": [0, 20], "nice": false, "zero": false}, "axis": null},
        "y": {"field": "value", "type": "quantitative", "scale": {"domain": [-0.903, 2.816], "nice": false, "zero": false}, "axis": null}
      }
    },
    {
      "data": {"values": [{}]},
      "mark": {"type": "rule", "color": "#000000", "strokeWidth": 1.3},
      "encoding": {
        "x": {"datum": 0, "type": "quantitative", "scale": {"domain": [0, 20], "nice": false, "zero": false}, "axis": null},
        "y": {"datum": 2.07, "type": "quantitative", "scale": {"domain": [2.07, 7.718], "reverse": true, "nice": false, "zero": false}, "axis": null},
        "y2": {"datum": 5.98}
      }
    },
    {
      "data": {"values": [{}]},
      "mark": {"type": "rule", "color": "#000000", "strokeWidth": 1.3},
      "encoding": {
        "x": {"datum": 20, "type": "quantitative", "scale": {"domain": [0, 20], "nice": false, "zero": false}, "axis": null},
        "y": {"datum": -0.903, "type": "quantitative", "scale": {"domain": [-0.903, 2.816], "nice": false, "zero": false}, "axis": null},
        "y2": {"datum": 1.187}
      }
    },
    {
      "data": {"values": [{}]},
      "layer": [
        {"mark": {"type": "text", "text": "δ", "angle": 270, "align": "left", "baseline": "alphabetic", "font": "Liberation Sans", "fontSize": 23, "color": "#000000", "dx": 1, "dy": 0}},
        {"mark": {"type": "text", "text": "18", "angle": 270, "align": "left", "baseline": "alphabetic", "font": "Liberation Sans", "fontSize": 16, "color": "#000000", "dx": 17, "dy": -8}},
        {"mark": {"type": "text", "text": "O", "angle": 270, "align": "left", "baseline": "alphabetic", "font": "Liberation Sans", "fontSize": 23, "color": "#000000", "dx": 36, "dy": 0}},
        {"mark": {"type": "text", "text": "benthic", "angle": 270, "align": "left", "baseline": "alphabetic", "font": "Liberation Sans", "fontSize": 15.5, "color": "#000000", "dx": 60, "dy": 5}},
        {"mark": {"type": "text", "text": "(", "angle": 270, "align": "left", "baseline": "alphabetic", "font": "Liberation Sans", "fontSize": 23, "color": "#000000", "dx": 117, "dy": 0}},
        {"mark": {"type": "text", "text": "o", "angle": 270, "align": "left", "baseline": "alphabetic", "font": "Liberation Sans", "fontSize": 16, "color": "#000000", "dx": 127, "dy": -8}},
        {"mark": {"type": "text", "text": "/", "angle": 270, "align": "left", "baseline": "alphabetic", "font": "Liberation Sans", "fontSize": 23, "color": "#000000", "dx": 139, "dy": 0}},
        {"mark": {"type": "text", "text": "oo", "angle": 270, "align": "left", "baseline": "alphabetic", "font": "Liberation Sans", "fontSize": 16, "color": "#000000", "dx": 149, "dy": 5}},
        {"mark": {"type": "text", "text": ")", "angle": 270, "align": "left", "baseline": "alphabetic", "font": "Liberation Sans", "fontSize": 23, "color": "#000000", "dx": 170, "dy": 0}}
      ],
      "encoding": {
        "x": {"datum": -1.067, "type": "quantitative", "scale": {"domain": [0, 20], "nice": false, "zero": false}, "axis": null},
        "y": {"datum": 4.859, "type": "quantitative", "scale": {"domain": [2.07, 7.718], "reverse": true, "nice": false, "zero": false}, "axis": null}
      }
    },
    {
      "data": {"values": [{}]},
      "layer": [
        {"mark": {"type": "text", "text": "δ", "angle": 270, "align": "left", "baseline": "alphabetic", "font": "Liberation Sans", "fontSize": 23, "color": "#000000", "dx": 1, "dy": 0}},
        {"mark": {"type": "text", "text": "13", "angle": 270, "align": "left", "baseline": "alphabetic", "font": "Liberation Sans", "fontSize": 16, "color": "#000000", "dx": 17, "dy": -8}},
        {"mark": {"type": "text", "text": "C", "angle": 270, "align": "left", "baseline": "alphabetic", "font": "Liberation Sans", "fontSize": 23, "color": "#000000", "dx": 36, "dy": 0}},
        {"mark": {"type": "text", "text": "benthic", "angle": 270, "align": "left", "baseline": "alphabetic", "font": "Liberation Sans", "fontSize": 15.5, "color": "#000000", "dx": 57, "dy": 4}},
        {"mark": {"type": "text", "text": "(", "angle": 270, "align": "left", "baseline": "alphabetic", "font": "Liberation Sans", "fontSize": 23, "color": "#000000", "dx": 116, "dy": 0}},
        {"mark": {"type": "text", "text": "o", "angle": 270, "align": "left", "baseline": "alphabetic", "font": "Liberation Sans", "fontSize": 16, "color": "#000000", "dx": 127, "dy": -8}},
        {"mark": {"type": "text", "text": "/", "angle": 270, "align": "left", "baseline": "alphabetic", "font": "Liberation Sans", "fontSize": 23, "color": "#000000", "dx": 139, "dy": 0}},
        {"mark": {"type": "text", "text": "oo", "angle": 270, "align": "left", "baseline": "alphabetic", "font": "Liberation Sans", "fontSize": 16, "color": "#000000", "dx": 149, "dy": 4}},
        {"mark": {"type": "text", "text": ")", "angle": 270, "align": "left", "baseline": "alphabetic", "font": "Liberation Sans", "fontSize": 23, "color": "#000000", "dx": 170, "dy": 0}}
      ],
      "encoding": {
        "x": {"datum": 22.23, "type": "quantitative", "scale": {"domain": [0, 20], "nice": false, "zero": false}, "axis": null},
        "y": {"datum": -0.6455, "type": "quantitative", "scale": {"domain": [-0.903, 2.816], "nice": false, "zero": false}, "axis": null}
      }
    }
  ],
  "resolve": {"scale": {"y": "independent"}, "axis": {"x": "independent", "y": "independent"}}
}
